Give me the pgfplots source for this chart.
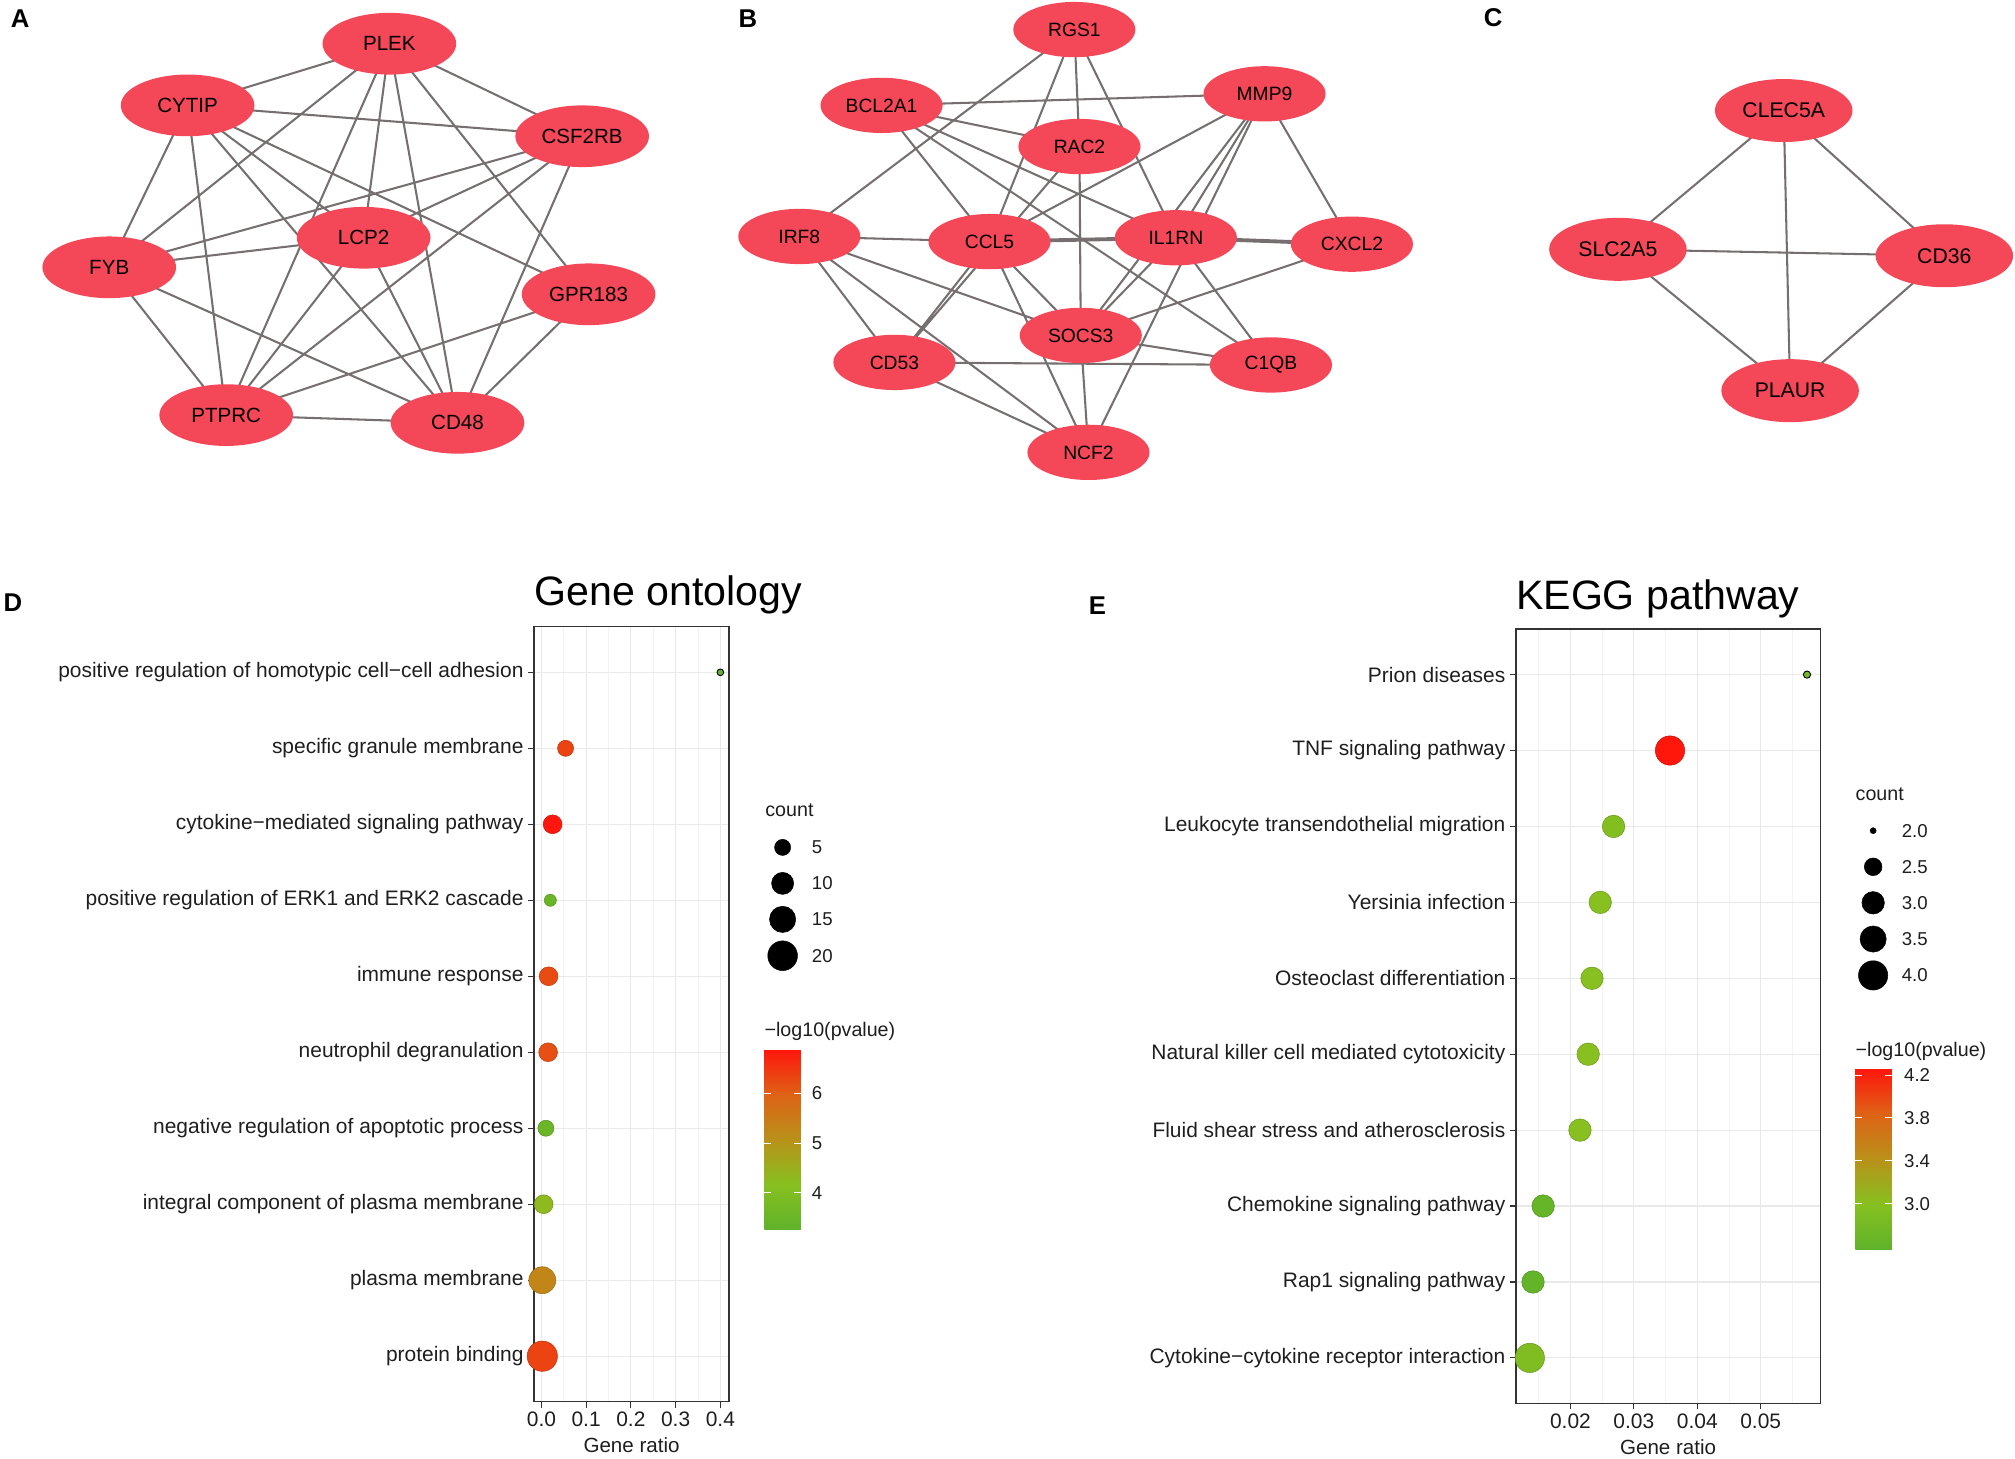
\documentclass[border=0pt]{standalone}
\usepackage{fontspec}
\setmainfont{Liberation Sans}
\usepackage{pgfplots}
\pgfplotsset{compat=1.18}
\usepackage{pgfplotstable}
\usetikzlibrary{shapes.geometric}

\definecolor{nodered}{RGB}{244,72,88}
\definecolor{edgec}{RGB}{118,111,111}
\definecolor{gridc}{RGB}{233,233,233}
\definecolor{gridm}{RGB}{243,243,243}
\definecolor{axc}{RGB}{51,51,51}
\definecolor{txt}{RGB}{30,30,30}

\newcommand{\fs}[1]{\fontsize{#1}{#1}\selectfont}

\pgfplotsset{colormap={gr}{rgb255=(95,178,42) rgb255=(135,192,32) rgb255=(185,145,25) rgb255=(222,98,22) rgb255=(255,22,12)}}

% ---------- network nodes (positions in picture units) ----------
\pgfplotstableread{
x y label
303 34 PLEK
146 82 CYTIP
453 106 CSF2RB
283 185 LCP2
85 208 FYB
458 229 GPR183
176 323 PTPRC
356 329 CD48
}\netA
\pgfplotstableread{
x y label
836 23 RGS1
686 82 BCL2A1
984 73 MMP9
840 114 RAC2
622 184 IRF8
770 188 CCL5
915 185 IL1RN
1052 190 CXCL2
841 261 SOCS3
696 282 CD53
989 284 C1QB
847 352 NCF2
}\netB
\pgfplotstableread{
x y label
1388 86 CLEC5A
1259 194 SLC2A5
1513 199 CD36
1393 304 PLAUR
}\netC

% ---------- dot plot data ----------
\pgfplotstableread{
pos ratio count logp
9 0.054 5 6.35
8 0.025 7 6.89
7 0.020 3 3.50
6 0.016 7 6.25
5 0.015 7 6.20
4 0.010 5 3.50
3 0.005 7 4.30
2 0.002 16 5.30
1 0.002 21 6.35
}\godata
\pgfplotstableread{
pos ratio count logp
10 0.400 2 3.30
}\gosmall
\pgfplotstableread{
pos ratio count logp
9 0.0357 4 4.26
8 0.0268 3 2.95
7 0.0247 3 3.00
6 0.0234 3 3.00
5 0.0228 3 3.00
4 0.0215 3 3.00
3 0.0157 3 2.65
2 0.0141 3 2.62
1 0.0136 4 2.92
}\keggdata
\pgfplotstableread{
pos ratio count logp
10 0.0573 2 2.78
}\keggsmall

\pgfplotsset{
  dotaxis/.style={
    scale only axis, anchor=south west,
    ymin=0.4, ymax=10.6, ytick={1,...,10},
    xmajorgrids, xminorgrids, ymajorgrids,
    major grid style={draw=gridc, line width=0.9pt},
    minor grid style={draw=gridm, line width=0.5pt},
    tick align=outside, tick pos=left,
    major tick length=4.7pt, minor tick length=0pt,
    tick style={draw=axc, line width=0.9pt},
    axis line style={draw=axc, line width=1pt},
    ticklabel style={font=\fs{16.3}, text=txt},
    scaled x ticks=false,
    /pgf/number format/assume math mode=true,
    xlabel={Gene ratio},
    xlabel style={at={(0.5,0)}, anchor=center, yshift=-33.7pt, font=\fs{16}, text=txt},
    title style={at={(0,1)}, anchor=base west, font=\fs{32}, inner sep=0pt},
    colormap name=gr,
    colorbar,
    colorbar/width=28.5pt,
    clip=true,
  },
  cbar/.style={
    at={(parent axis.south west)},
    anchor=north west, scale only axis, width=28.5pt,
    grid=none, minor xtick={}, minor ytick={},
    xlabel={}, ylabel={},
    axis line style={draw=none},
    tick align=inside, ytick pos=both, yticklabel pos=right,
    major tick length=5.2pt,
    tick style={draw=white, line width=0.8pt},
    ticklabel style={font=\fs{14.5}, text=txt},
    every axis title/.style={at={(0,1)}, anchor=base west, font=\fs{15.3}, inner sep=0pt, text=txt},
    axis on top,
  },
}

\begin{document}
\begin{tikzpicture}
\useasboundingbox (0pt,0pt) rectangle (1568pt,-1135pt);

% ================= canvas axis: networks, legends, letters =================
\begin{axis}[at={(784pt,-567.5pt)}, anchor=center, scale only axis,
  width=1568pt, height=1135pt, xmin=0, xmax=1568, ymin=0, ymax=1135,
  y dir=reverse, hide axis, clip=false]

% ---- Panel A edges
\addplot[draw=edgec, line width=1.6pt, unbounded coords=jump] coordinates {
(303,34) (146,82) (nan,nan)
(303,34) (453,106) (nan,nan)
(303,34) (85,208) (nan,nan)
(303,34) (283,185) (nan,nan)
(303,34) (176,323) (nan,nan)
(303,34) (356,329) (nan,nan)
(303,34) (458,229) (nan,nan)
(146,82) (453,106) (nan,nan)
(146,82) (85,208) (nan,nan)
(146,82) (176,323) (nan,nan)
(146,82) (283,185) (nan,nan)
(146,82) (356,329) (nan,nan)
(146,82) (458,229) (nan,nan)
(453,106) (85,208) (nan,nan)
(453,106) (283,185) (nan,nan)
(453,106) (176,323) (nan,nan)
(453,106) (356,329) (nan,nan)
(85,208) (283,185) (nan,nan)
(85,208) (176,323) (nan,nan)
(85,208) (356,329) (nan,nan)
(283,185) (176,323) (nan,nan)
(283,185) (356,329) (nan,nan)
(458,229) (176,323) (nan,nan)
(458,229) (356,329) (nan,nan)
(176,323) (356,329)
};
% ---- Panel B edges
\addplot[draw=edgec, line width=1.6pt, unbounded coords=jump] coordinates {
(836,23) (622,184) (nan,nan)
(836,23) (770,188) (nan,nan)
(836,23) (840,114) (nan,nan)
(836,23) (915,185) (nan,nan)
(686,82) (984,73) (nan,nan)
(686,82) (840,114) (nan,nan)
(686,82) (770,188) (nan,nan)
(686,82) (915,185) (nan,nan)
(686,82) (989,284) (nan,nan)
(984,73) (770,188) (nan,nan)
(984,73) (915,185) (nan,nan)
(984,73) (841,261) (nan,nan)
(984,73) (847,352) (nan,nan)
(984,73) (1052,190) (nan,nan)
(840,114) (696,282) (nan,nan)
(840,114) (841,261) (nan,nan)
(622,184) (770,188) (nan,nan)
(622,184) (841,261) (nan,nan)
(622,184) (696,282) (nan,nan)
(622,184) (847,352) (nan,nan)
(770,188) (696,282) (nan,nan)
(770,188) (841,261) (nan,nan)
(770,188) (847,352) (nan,nan)
(915,185) (841,261) (nan,nan)
(915,185) (989,284) (nan,nan)
(1052,190) (841,261) (nan,nan)
(841,261) (989,284) (nan,nan)
(841,261) (847,352) (nan,nan)
(696,282) (989,284) (nan,nan)
(696,282) (847,352)
};
\addplot[draw=edgec, line width=3pt, unbounded coords=jump] coordinates {
(770,188) (915,185) (nan,nan)
(915,185) (1052,190)
};
% ---- Panel C edges
\addplot[draw=edgec, line width=1.6pt, unbounded coords=jump] coordinates {
(1388,86) (1259,194) (nan,nan)
(1388,86) (1513,199) (nan,nan)
(1388,86) (1393,304) (nan,nan)
(1259,194) (1513,199) (nan,nan)
(1259,194) (1393,304) (nan,nan)
(1513,199) (1393,304)
};

% ---- nodes
\addplot[draw=none, mark=none, nodes near coords, nodes near coords align=center,
  point meta=explicit symbolic,
  every node near coord/.append style={ellipse, fill=nodered, minimum width=104pt,
    minimum height=48pt, inner sep=0pt, font=\fs{16}, text=black}]
  table[x=x, y=y, meta=label] {\netA};
\addplot[draw=none, mark=none, nodes near coords, nodes near coords align=center,
  point meta=explicit symbolic,
  every node near coord/.append style={ellipse, fill=nodered, minimum width=95pt,
    minimum height=43pt, inner sep=0pt, font=\fs{15}, text=black}]
  table[x=x, y=y, meta=label] {\netB};
\addplot[draw=none, mark=none, nodes near coords, nodes near coords align=center,
  point meta=explicit symbolic,
  every node near coord/.append style={ellipse, fill=nodered, minimum width=107pt,
    minimum height=49pt, inner sep=0pt, font=\fs{16.5}, text=black}]
  table[x=x, y=y, meta=label] {\netC};

% ---- panel letters
\node[font=\bfseries\fs{20}, inner sep=0pt] at (axis cs:15.6,14.3) {A};
\node[font=\bfseries\fs{20}, inner sep=0pt] at (axis cs:582,14.3) {B};
\node[font=\bfseries\fs{20}, inner sep=0pt] at (axis cs:1162,14) {C};
\node[font=\bfseries\fs{20}, inner sep=0pt] at (axis cs:10,469) {D};
\node[font=\bfseries\fs{20}, inner sep=0pt] at (axis cs:854,471) {E};

% ---- count legend D
\node[anchor=base west, inner sep=0pt, font=\fs{15.3}, text=txt] at (axis cs:595.4,635.5) {count};
\addplot[only marks, mark=*, black, mark size={(5.2+18.4*sqrt((5-2)/19))/2}] coordinates {(609,659.4)};
\addplot[only marks, mark=*, black, mark size={(5.2+18.4*sqrt((10-2)/19))/2}] coordinates {(609,687.4)};
\addplot[only marks, mark=*, black, mark size={(5.2+18.4*sqrt((15-2)/19))/2}] coordinates {(609,715.4)};
\addplot[only marks, mark=*, black, mark size={(5.2+18.4*sqrt((20-2)/19))/2}] coordinates {(609,743.7)};
\node[anchor=west, inner sep=0pt, font=\fs{14.5}, text=txt] at (axis cs:631.6,659.4) {5};
\node[anchor=west, inner sep=0pt, font=\fs{14.5}, text=txt] at (axis cs:631.6,687.4) {10};
\node[anchor=west, inner sep=0pt, font=\fs{14.5}, text=txt] at (axis cs:631.6,715.4) {15};
\node[anchor=west, inner sep=0pt, font=\fs{14.5}, text=txt] at (axis cs:631.6,743.7) {20};

% ---- count legend E
\node[anchor=base west, inner sep=0pt, font=\fs{15.3}, text=txt] at (axis cs:1443.8,623.1) {count};
\addplot[only marks, mark=*, black, mark size={(4.7+18.1*sqrt((2.0-2)/2))/2}] coordinates {(1457.6,646.4)};
\addplot[only marks, mark=*, black, mark size={(4.7+18.1*sqrt((2.5-2)/2))/2}] coordinates {(1457.6,674.5)};
\addplot[only marks, mark=*, black, mark size={(4.7+18.1*sqrt((3.0-2)/2))/2}] coordinates {(1457.6,702.5)};
\addplot[only marks, mark=*, black, mark size={(4.7+18.1*sqrt((3.5-2)/2))/2}] coordinates {(1457.6,730.7)};
\addplot[only marks, mark=*, black, mark size={(4.7+18.1*sqrt((4.0-2)/2))/2}] coordinates {(1457.6,759)};
\node[anchor=west, inner sep=0pt, font=\fs{14.5}, text=txt] at (axis cs:1479.7,646.4) {2.0};
\node[anchor=west, inner sep=0pt, font=\fs{14.5}, text=txt] at (axis cs:1479.7,674.5) {2.5};
\node[anchor=west, inner sep=0pt, font=\fs{14.5}, text=txt] at (axis cs:1479.7,702.5) {3.0};
\node[anchor=west, inner sep=0pt, font=\fs{14.5}, text=txt] at (axis cs:1479.7,730.7) {3.5};
\node[anchor=west, inner sep=0pt, font=\fs{14.5}, text=txt] at (axis cs:1479.7,759) {4.0};
\end{axis}

% ================= D: Gene ontology =================
\begin{axis}[dotaxis,
  at={(415.6pt,-1090.8pt)}, width=151.7pt, height=603.1pt,
  xmin=-0.0164, xmax=0.4194,
  xtick={0,0.1,0.2,0.3,0.4}, minor xtick={0.05,0.15,0.25,0.35},
  xticklabel style={/pgf/number format/.cd, fixed, fixed zerofill, precision=1},
  yticklabels={protein binding, plasma membrane, integral component of plasma membrane, negative regulation of apoptotic process, neutrophil degranulation, immune response, positive regulation of ERK1 and ERK2 cascade, cytokine−mediated signaling pathway, specific granule membrane, positive regulation of homotypic cell−cell adhesion},
  title={Gene ontology}, title style={yshift=10.6pt},
  point meta min=3.26, point meta max=6.89,
  colorbar shift/.style={xshift=179.2pt, yshift=274.2pt},
  colorbar style={cbar, width=28.5pt, height=140.1pt, ytick={4,5,6}, yticklabels={4,5,6},
    yticklabel style={xshift=5pt},
    title={−log10(pvalue)}, every axis title/.append style={yshift=10.4pt}},
]
\addplot[scatter, only marks, mark=*, point meta=explicit,
  visualization depends on={\thisrow{count} \as \mycnt},
  scatter/@pre marker code/.append style={/tikz/mark size={(5.2+18.4*sqrt((\mycnt-2)/19))/2}}]
  table[x=ratio, y=pos, meta=logp] {\godata};
\addplot[scatter, only marks, mark=*, point meta=explicit, line width=0.7pt,
  scatter/use mapped color={draw=black, fill=mapped color},
  visualization depends on={\thisrow{count} \as \mycnt},
  scatter/@pre marker code/.append style={/tikz/mark size={(5.2+18.4*sqrt((\mycnt-2)/19))/2}}]
  table[x=ratio, y=pos, meta=logp] {\gosmall};
\end{axis}

% ================= E: KEGG pathway =================
\begin{axis}[dotaxis,
  at={(1179.6pt,-1092.1pt)}, width=236.9pt, height=602.6pt,
  xmin=0.0114, xmax=0.0594,
  xtick={0.02,0.03,0.04,0.05}, minor xtick={0.015,0.025,0.035,0.045,0.055},
  xticklabel style={/pgf/number format/.cd, fixed, fixed zerofill, precision=2},
  yticklabels={Cytokine−cytokine receptor interaction, Rap1 signaling pathway, Chemokine signaling pathway, Fluid shear stress and atherosclerosis, Natural killer cell mediated cytotoxicity, Osteoclast differentiation, Yersinia infection, Leukocyte transendothelial migration, TNF signaling pathway, Prion diseases},
  title={KEGG pathway}, title style={yshift=9.5pt},
  point meta min=2.574, point meta max=4.262,
  colorbar shift/.style={xshift=264.2pt, yshift=260.7pt},
  colorbar/width=28.4pt,
  colorbar style={cbar, width=28.4pt, height=140.8pt, ytick={3.0,3.4,3.8,4.2}, yticklabels={3.0,3.4,3.8,4.2},
    yticklabel style={xshift=6pt},
    title={−log10(pvalue)}, every axis title/.append style={yshift=9.1pt}},
]
\addplot[scatter, only marks, mark=*, point meta=explicit,
  visualization depends on={\thisrow{count} \as \mycnt},
  scatter/@pre marker code/.append style={/tikz/mark size={(4.7+18.1*sqrt((\mycnt-2)/2))/2}}]
  table[x=ratio, y=pos, meta=logp] {\keggdata};
\addplot[scatter, only marks, mark=*, point meta=explicit, line width=0.7pt,
  scatter/use mapped color={draw=black, fill=mapped color},
  visualization depends on={\thisrow{count} \as \mycnt},
  scatter/@pre marker code/.append style={/tikz/mark size={(5.6+18.1*sqrt((\mycnt-2)/2))/2}}]
  table[x=ratio, y=pos, meta=logp] {\keggsmall};
\end{axis}
\end{tikzpicture}
\end{document}
